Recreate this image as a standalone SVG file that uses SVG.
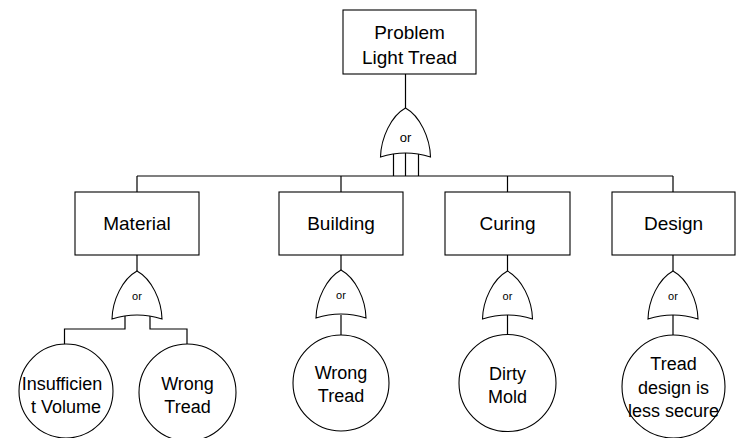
<svg xmlns="http://www.w3.org/2000/svg" width="740" height="438" viewBox="0 0 740 438">
<defs>
<style>
.box{fill:#fff;stroke:#000;stroke-width:1.1}
.gate{fill:#fff;stroke:#000;stroke-width:1.1}
.ev{fill:#fff;stroke:#000;stroke-width:1.1}
.ln{fill:none;stroke:#000;stroke-width:1.2}
.t{font-family:"Liberation Sans",Arial,sans-serif;font-size:18px;fill:#000;text-anchor:middle}
.tb{font-family:"Liberation Sans",Arial,sans-serif;font-size:19px;fill:#000;text-anchor:middle}
.g{font-family:"Liberation Sans",Arial,sans-serif;font-size:11px;fill:#000;text-anchor:middle}
.gt{font-family:"Liberation Sans",Arial,sans-serif;font-size:13px;fill:#000;text-anchor:middle}
</style>
</defs>
<rect width="740" height="438" fill="#fff"/>
<g id="connectors">
<path class="ln" d="M405.5,74 V108"/>
<path class="ln" d="M393.5,154 V176 M405.5,153 V176 M418.5,154 V176"/>
<path class="ln" d="M137,176 H673"/>
<path class="ln" d="M137,176 V192 M341,176 V192 M507.5,176 V192 M673,176 V192"/>
<path class="ln" d="M137,255 V271 M341,255 V271 M507.5,255 V271 M673,255 V271"/>
<path class="ln" d="M125,316 V329 H64.5 V344 M150,316 V329 H187 V344"/>
<path class="ln" d="M341,315 V335 M507.5,315 V335 M673,315 V335"/>
</g>
<g id="top">
<rect class="box" x="343" y="10" width="133" height="64"/>
<text class="tb" x="409.5" y="38.5">Problem</text>
<text class="tb" x="409.5" y="63.5">Light Tread</text>
</g>
<g id="gate-top">
<path class="gate" d="M405.5,108 C420,116 430,138 430.5,157 Q405.5,149 380.5,157 C381,138 391,116 405.5,108 Z"/>
<text class="gt" x="405.5" y="141.5">or</text>
</g>
<g id="material">
<rect class="box" x="75" y="192" width="124" height="63"/>
<text class="tb" x="137" y="229.5">Material</text>
</g>
<g id="building">
<rect class="box" x="279" y="192" width="124" height="63"/>
<text class="tb" x="341" y="229.5">Building</text>
</g>
<g id="curing">
<rect class="box" x="445" y="192" width="125" height="63"/>
<text class="tb" x="507.5" y="229.5">Curing</text>
</g>
<g id="design">
<rect class="box" x="612" y="192" width="123" height="63"/>
<text class="tb" x="673.5" y="229.5">Design</text>
</g>
<g id="gate-material">
<path class="gate" d="M137,271 C151.5,279 161.5,300 162,319 Q137,311 112,319 C112.5,300 122.5,279 137,271 Z"/>
<text class="g" x="137" y="300">or</text>
</g>
<g id="gate-building">
<path class="gate" d="M341,270 C355.5,278 365.5,299 366,318 Q341,310 316,318 C316.5,299 326.5,278 341,270 Z"/>
<text class="g" x="341" y="299">or</text>
</g>
<g id="gate-curing">
<path class="gate" d="M507.5,271 C522,279 532,300 532.5,319 Q507.5,311 482.5,319 C483,300 493,279 507.5,271 Z"/>
<text class="g" x="507.5" y="300">or</text>
</g>
<g id="gate-design">
<path class="gate" d="M673,271 C687.5,279 697.5,300 698,319 Q673,311 648,319 C648.5,300 658.5,279 673,271 Z"/>
<text class="g" x="673" y="300">or</text>
</g>
<g id="insufficient-volume">
<circle class="ev" cx="66" cy="391" r="47"/>
<text class="t" x="62" y="389.5">Insufficien</text>
<text class="t" x="66" y="413">t Volume</text>
</g>
<g id="wrong-tread-1">
<circle class="ev" cx="187.5" cy="392.5" r="48.5"/>
<text class="t" x="187.5" y="389.5">Wrong</text>
<text class="t" x="187.5" y="413">Tread</text>
</g>
<g id="wrong-tread-2">
<circle class="ev" cx="341" cy="383" r="48"/>
<text class="t" x="341" y="378.5">Wrong</text>
<text class="t" x="341" y="402">Tread</text>
</g>
<g id="dirty-mold">
<circle class="ev" cx="507.5" cy="383" r="48.5"/>
<text class="t" x="507.5" y="379.5">Dirty</text>
<text class="t" x="507.5" y="403">Mold</text>
</g>
<g id="tread-design">
<circle class="ev" cx="673.5" cy="386.5" r="51.5"/>
<text class="t" x="673.5" y="370">Tread</text>
<text class="t" x="673.5" y="393.5">design is</text>
<text class="t" x="673.5" y="417">less secure</text>
</g>
</svg>
